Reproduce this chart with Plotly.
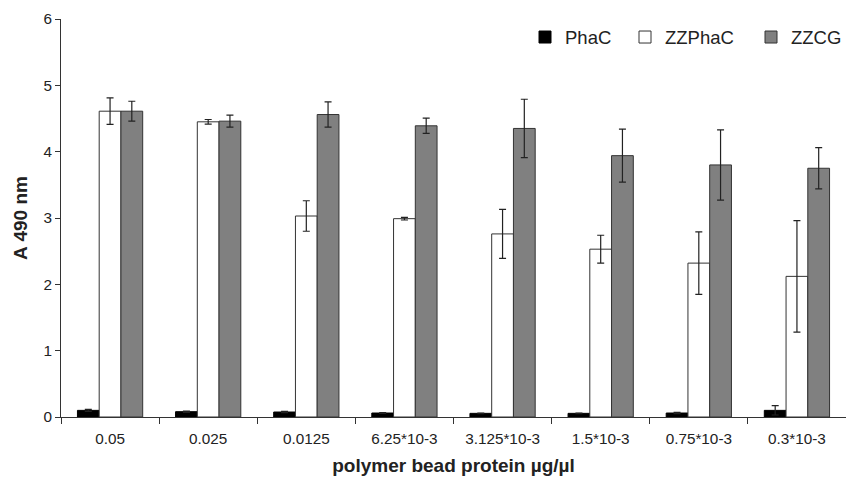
import plotly.graph_objects as go

categories = ["0.05", "0.025", "0.0125", "6.25*10-3", "3.125*10-3", "1.5*10-3", "0.75*10-3", "0.3*10-3"]
phac = [0.10, 0.08, 0.075, 0.06, 0.055, 0.055, 0.06, 0.10]
phac_err = [0.015, 0.01, 0.01, 0.005, 0.005, 0.005, 0.01, 0.07]
zzphac = [4.61, 4.45, 3.03, 2.99, 2.76, 2.53, 2.32, 2.12]
zzphac_err = [0.20, 0.035, 0.23, 0.02, 0.37, 0.21, 0.47, 0.84]
zzcg = [4.61, 4.46, 4.56, 4.39, 4.35, 3.94, 3.80, 3.75]
zzcg_err = [0.15, 0.09, 0.19, 0.115, 0.44, 0.40, 0.53, 0.31]

font_family = "Liberation Sans, Arial, sans-serif"

L, R, T, B = 61, 0, 19, 62
W, H = 846, 479
pw = W - L - R
ph = H - T - B

def err(vals):
    return dict(type="data", array=vals, visible=True, color="#222222", thickness=1.2, width=3.5)

fig = go.Figure()
fig.add_trace(go.Bar(name="PhaC", x=categories, y=phac, error_y=err(phac_err), legend="legend",
                     marker=dict(color="#000000", line=dict(color="#000000", width=1))))
fig.add_trace(go.Bar(name="ZZPhaC", x=categories, y=zzphac, error_y=err(zzphac_err), legend="legend2",
                     marker=dict(color="#ffffff", line=dict(color="#333333", width=1))))
fig.add_trace(go.Bar(name="ZZCG", x=categories, y=zzcg, error_y=err(zzcg_err), legend="legend3",
                     marker=dict(color="#808080", line=dict(color="#333333", width=1))))

def leg(px_left):
    return dict(x=(px_left - L) / pw, xanchor="left", y=(H - B - 37.5) / ph, yanchor="middle",
                font=dict(size=18.5, color="#222222"), bgcolor="rgba(0,0,0,0)",
                itemwidth=30, borderwidth=0)

fig.update_layout(
    width=W, height=H,
    margin=dict(l=L, r=R, t=T, b=B, autoexpand=False),
    paper_bgcolor="white", plot_bgcolor="white",
    barmode="group", bargap=0.335, bargroupgap=0,
    font=dict(family=font_family, color="#222222", size=15.3),
    showlegend=True,
    legend=leg(525),
    legend2=leg(625),
    legend3=leg(751),
    xaxis=dict(
        title=dict(text="<b>polymer bead protein µg/µl</b>", font=dict(size=19), standoff=12),
        showline=True, linecolor="#333333", linewidth=1, automargin=False,
        ticks="outside", tickson="boundaries", ticklen=6, tickcolor="#333333",
        tickfont=dict(size=15.3), showgrid=False, ticklabelstandoff=8,
    ),
    yaxis=dict(
        title=dict(text="<b>A 490 nm</b>", font=dict(size=19), standoff=10),
        range=[0, 6], dtick=1, showline=True, linecolor="#333333", linewidth=1, automargin=False,
        ticks="outside", ticklen=5, tickcolor="#333333",
        tickfont=dict(size=15.3), showgrid=False, zeroline=False,
    ),
)

fig.write_html("out.html", config={"displayModeBar": False},
               post_script="document.body.style.margin='0';")
